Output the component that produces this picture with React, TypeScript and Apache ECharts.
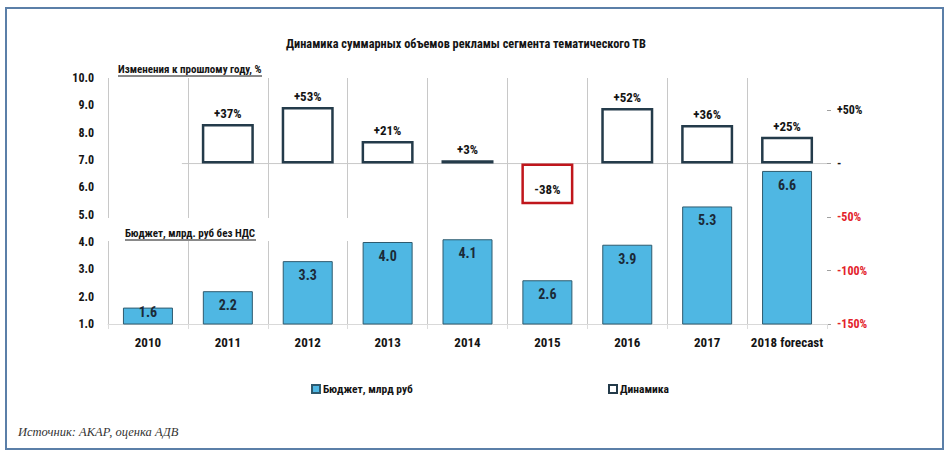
import React, { useEffect, useRef } from "react";
import * as echarts from "echarts";

const titleText = "Динамика суммарных объемов рекламы сегмента тематического ТВ";
const categories = ["2010", "2011", "2012", "2013", "2014", "2015", "2016", "2017", "2018 forecast"];
const budget = [1.6, 2.2, 3.3, 4.0, 4.1, 2.6, 3.9, 5.3, 6.6];
const change: (number | null)[] = [null, 37, 53, 21, 3, -38, 52, 36, 25];
const leftMin = 1;
const leftMax = 10;
const leftInterval = 1;
const rightMin = -150;
const rightMax = 80;
const rightTicks = [-150, -100, -50, 0, 50];
const seriesNames = ["Бюджет, млрд руб", "Динамика"];
const changeAxisTitle = "Изменения к прошлому году, %";
const budgetAxisTitle = "Бюджет, млрд. руб без НДС";
const sourceText = "Источник: АКАР, оценка АДВ";

const FONT = "Roboto, 'Open Sans', sans-serif";
const TEXT = "#141414";
const BLUE = "#4FB7E3";
const BLUE_BORDER = "#2e5a6e";
const BOX = "#243b4a";
const RED = "#c0161c";
const RED_TEXT = "#e3232b";

function fmtPct(v: number) {
  if (v === 0) return "-";
  return (v > 0 ? "+" : "") + v + "%";
}

export default function App() {
  const ref = useRef<HTMLDivElement>(null);
  useEffect(() => {
    if (!ref.current) return;
    const chart = echarts.init(ref.current, undefined, { renderer: "svg" });
    const legendText = { fontFamily: FONT, fontWeight: "bold", fontSize: 11.5, color: TEXT, padding: [0, 0, 0, -2] };
    const option: any = {
      animation: false,
      backgroundColor: "#ffffff",
      title: {
        text: titleText,
        left: 281,
        top: 33,
        textStyle: { fontFamily: FONT, fontWeight: "bold", fontSize: 12.3, color: TEXT },
      },
      legend: [
        {
          data: [seriesNames[0]],
          left: 306,
          top: 378,
          itemWidth: 8,
          itemHeight: 8,
          icon: "rect",
          textStyle: legendText,
        },
        {
          data: [seriesNames[1]],
          left: 603,
          top: 378,
          itemWidth: 8,
          itemHeight: 8,
          icon: "rect",
          textStyle: legendText,
        },
      ],
      grid: { left: 108, right: 122, top: 78, bottom: 131 },
      xAxis: [
        {
          type: "category",
          data: categories,
          axisLine: { onZero: false, lineStyle: { color: "#d9d9d9" } },
          axisTick: { show: true, interval: 0, length: 5, lineStyle: { color: "#dcdcdc" } },
          axisLabel: { interval: 0, fontFamily: FONT, fontWeight: "bold", fontSize: 13, color: TEXT, margin: 12 },
          splitLine: { show: true, interval: 0, showMaxLine: false, lineStyle: { color: "#c8c8c8", width: 1 } },
        },
        {
          type: "category",
          data: categories,
          show: false,
          axisLine: { onZero: false },
        },
      ],
      yAxis: [
        {
          type: "value",
          min: leftMin,
          max: leftMax,
          interval: leftInterval,
          axisLine: { show: false },
          axisTick: { show: false },
          splitLine: { show: false },
          axisLabel: {
            formatter: (v: number) => v.toFixed(1),
            fontFamily: FONT,
            fontWeight: "bold",
            fontSize: 12,
            color: TEXT,
            margin: 14,
          },
        },
        {
          type: "value",
          min: rightMin,
          max: rightMax,
          position: "right",
          axisLine: { show: false },
          splitLine: { show: false },
          axisTick: { show: true, length: 4, customValues: rightTicks, lineStyle: { color: "#a0a0a0" } },
          axisLabel: {
            customValues: rightTicks,
            formatter: (v: number) => fmtPct(v),
            color: (v: any) => (Number(v) < 0 ? RED_TEXT : TEXT),
            fontFamily: FONT,
            fontWeight: "bold",
            fontSize: 12,
            margin: 10,
          },
        },
      ],
      series: [
        {
          name: seriesNames[0],
          type: "bar",
          xAxisIndex: 0,
          yAxisIndex: 0,
          barWidth: 50,
          z: 3,
          itemStyle: { color: BLUE, borderColor: BLUE_BORDER, borderWidth: 1 },
          label: {
            show: true,
            position: "insideTop",
            distance: 7,
            formatter: (p: any) => Number(p.value).toFixed(1),
            fontFamily: FONT,
            fontWeight: "bold",
            fontSize: 14,
            color: "#1b2a38",
          },
          data: budget.map((v) => (v - leftMin < 1 ? { value: v, label: { distance: -3 } } : v)),
        },
        {
          name: seriesNames[1],
          type: "bar",
          xAxisIndex: 1,
          yAxisIndex: 1,
          barWidth: 52,
          z: 3,
          itemStyle: { color: "#ffffff", borderColor: BOX, borderWidth: 2.5 },
          label: {
            show: true,
            position: "top",
            distance: 4,
            formatter: (p: any) => fmtPct(Number(p.value)),
            fontFamily: FONT,
            fontWeight: "bold",
            fontSize: 13,
            color: TEXT,
          },
          data: change.map((v) =>
            v != null && v < 0
              ? { value: v, itemStyle: { borderColor: RED }, label: { position: "inside", offset: [0, 6] } }
              : v
          ),
        },
      ],
    };
    chart.setOption(option);

    const y0 = chart.convertToPixel({ yAxisIndex: 1 }, 0) as number;
    const c1 = chart.convertToPixel({ xAxisIndex: 0 }, categories[1]) as number;
    const c2 = chart.convertToPixel({ xAxisIndex: 0 }, categories[2]) as number;
    const cl = chart.convertToPixel({ xAxisIndex: 0 }, categories[categories.length - 1]) as number;
    const band = c2 - c1;

    chart.setOption({
      graphic: [
        {
          type: "rect",
          z: 0,
          silent: true,
          shape: { x: 6, y: 8, width: 937, height: 441 },
          style: { fill: "none", stroke: "#5b7fa8", lineWidth: 2 },
        },
        {
          type: "line",
          z: 1,
          silent: true,
          shape: { x1: c1 - band / 2 - 6, y1: y0, x2: cl + band / 2, y2: y0 },
          style: { stroke: "#c8c8c8", lineWidth: 1 },
        },
        {
          type: "rect",
          z: 1,
          silent: true,
          shape: { x: 105, y: 218, width: 252, height: 23 },
          style: { fill: "#ffffff" },
        },
        {
          type: "text",
          z: 5,
          x: 125,
          y: 233,
          style: {
            text: budgetAxisTitle,
            fontFamily: FONT,
            fontWeight: "bold",
            fontSize: 11,
            fill: TEXT,
            verticalAlign: "middle",
          },
        },
        {
          type: "line",
          z: 5,
          shape: { x1: 125, y1: 240, x2: 256, y2: 240 },
          style: { stroke: TEXT, lineWidth: 1 },
        },
        {
          type: "text",
          z: 5,
          x: 118,
          y: 69,
          style: {
            text: changeAxisTitle,
            fontFamily: FONT,
            fontWeight: "bold",
            fontSize: 11,
            fill: TEXT,
            verticalAlign: "middle",
          },
        },
        {
          type: "line",
          z: 5,
          shape: { x1: 118, y1: 76, x2: 262, y2: 76 },
          style: { stroke: TEXT, lineWidth: 1 },
        },
        {
          type: "text",
          z: 5,
          x: 18,
          y: 432,
          style: {
            text: sourceText,
            fontFamily: "'Liberation Serif', 'DejaVu Serif', serif",
            fontStyle: "italic",
            fontSize: 12.5,
            fill: "#333333",
            verticalAlign: "middle",
          },
        },
      ],
    });

    return () => chart.dispose();
  }, []);

  return (
    <>
      <style>{"#chartbox svg text { font-stretch: 75% !important; }"}</style>
      <div
        id="chartbox"
        ref={ref}
        style={{ position: "fixed", left: 0, top: 0, width: 949, height: 455, background: "#fff" }}
      />
    </>
  );
}
